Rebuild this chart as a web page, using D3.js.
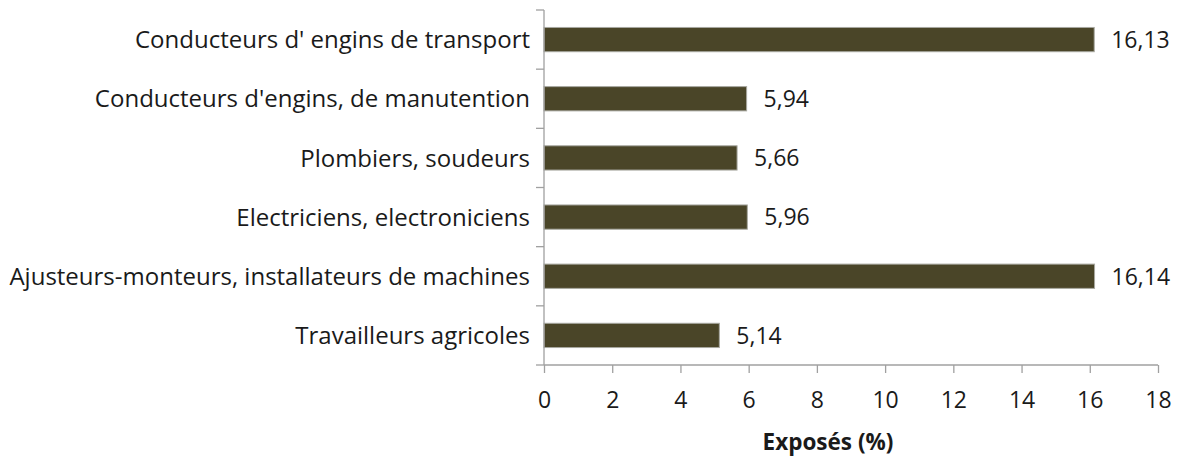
<!DOCTYPE html>
<html>
<head>
<meta charset="utf-8">
<script src="https://cdn.jsdelivr.net/npm/d3@7"></script>
<style>
  body { margin: 0; background: #fff; }
  text { font-family: "Open Sans", sans-serif; fill: #1a1a1a; }
</style>
</head>
<body>
<div id="chart"></div>
<script>
const categories = [
  "Conducteurs d' engins de transport",
  "Conducteurs d'engins, de manutention",
  "Plombiers, soudeurs",
  "Electriciens, electroniciens",
  "Ajusteurs-monteurs, installateurs de machines",
  "Travailleurs agricoles"
];
const values = [16.13, 5.94, 5.66, 5.96, 16.14, 5.14];
const xTicks = [0, 2, 4, 6, 8, 10, 12, 14, 16, 18];
const xTitle = "Exposés (%)";

const width = 1181, height = 459;
const margin = { top: 10, right: 23, bottom: 94, left: 544 };

const svg = d3.select("#chart").append("svg")
  .attr("width", width)
  .attr("height", height);

const x = d3.scaleLinear().domain([0, 18]).range([margin.left, width - margin.right]);
const y = d3.scaleBand().domain(categories).range([margin.top, height - margin.bottom]).paddingInner(0.59).paddingOuter(0.295);

// bars
svg.append("g")
  .selectAll("rect")
  .data(values)
  .join("rect")
  .attr("x", x(0))
  .attr("y", (d, i) => y(categories[i]))
  .attr("width", d => x(d) - x(0))
  .attr("height", y.bandwidth())
  .attr("fill", "#4a4528")
  .attr("stroke", "#a8a8a0")
  .attr("stroke-width", 1);

// value labels
svg.append("g")
  .selectAll("text")
  .data(values)
  .join("text")
  .attr("x", d => x(d) + 17)
  .attr("y", (d, i) => y(categories[i]) + y.bandwidth() / 2)
  .attr("dy", "0.36em")
  .style("font-size", "23px")
  .text(d => d3.format(".2f")(d).replace(".", ","));

// y axis (ticks between categories)
const yAxis = svg.append("g");
const y0 = margin.top, y1 = height - margin.bottom;
yAxis.append("line")
  .attr("x1", x(0)).attr("x2", x(0))
  .attr("y1", y0).attr("y2", y1)
  .attr("stroke", "#a0a0a0").attr("stroke-width", 1.3);
const step = (y1 - y0) / categories.length;
yAxis.selectAll(".tick")
  .data(d3.range(categories.length + 1))
  .join("line")
  .attr("x1", x(0) - 8).attr("x2", x(0))
  .attr("y1", i => y0 + i * step).attr("y2", i => y0 + i * step)
  .attr("stroke", "#a0a0a0").attr("stroke-width", 1.3);
yAxis.selectAll("text")
  .data(categories)
  .join("text")
  .attr("x", x(0) - 14)
  .attr("y", d => y(d) + y.bandwidth() / 2)
  .attr("dy", "0.36em")
  .attr("text-anchor", "end")
  .style("font-size", "24px")
  .text(d => d);

// x axis
const xAxis = svg.append("g")
  .attr("transform", `translate(0,${y1})`)
  .call(d3.axisBottom(x).tickValues(xTicks).tickSize(8).tickFormat(d3.format("d")));
xAxis.select(".domain").attr("stroke", "#a0a0a0").attr("stroke-width", 1.3)
  .attr("d", `M${x(0)},0H${x(18)}`);
xAxis.selectAll(".tick line").attr("stroke", "#a0a0a0").attr("stroke-width", 1.3);
xAxis.selectAll(".tick text")
  .attr("y", 43)
  .attr("dy", null)
  .style("font-family", "'Open Sans', sans-serif")
  .style("font-size", "23px")
  .attr("fill", "#1a1a1a");

svg.append("text")
  .attr("x", 828)
  .attr("y", 450)
  .attr("text-anchor", "middle")
  .style("font-size", "22.5px")
  .style("font-weight", "bold")
  .text(xTitle);
</script>
</body>
</html>
